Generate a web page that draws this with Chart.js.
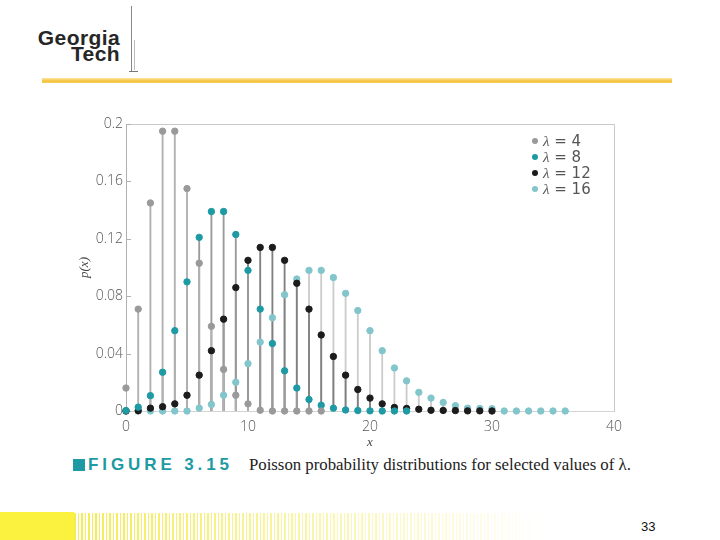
<!DOCTYPE html>
<html>
<head>
<meta charset="utf-8">
<script src="https://cdn.jsdelivr.net/npm/chart.js@4.4.1/dist/chart.umd.min.js"></script>
<style>
  html, body { margin: 0; padding: 0; background: #fff; }
  #slide { position: relative; width: 720px; height: 540px; overflow: hidden; font-family: "Liberation Sans", Arial, sans-serif; }
  .logo { position: absolute; right: 600px; font-weight: bold; color: #262626; font-size: 21px; line-height: 21px; letter-spacing: 0.4px; text-align: right; }
  .tower { position: absolute; background: #777; }
  #goldbar { position: absolute; left: 42px; top: 78px; width: 630px; height: 5px;
             background: linear-gradient(to bottom, #fde7a0, #f5c23c 60%, #f7cf5e); }
  #chartWrap { position: absolute; left: 60px; top: 110px; width: 570px; height: 340px; }
  #legend { position: absolute; left: 532px; top: 133px; font-family: "DejaVu Sans", sans-serif; font-size: 15px; color: #555; }
  #legend div { height: 16px; line-height: 16px; white-space: nowrap; }
  #legend span.dot { display: inline-block; width: 6px; height: 6px; border-radius: 3px; margin-right: 5px; vertical-align: 2px; }
  #caption { position: absolute; left: 73px; top: 455px; white-space: nowrap; }
  #caption .sq { display: inline-block; width: 12px; height: 12px; background: #1d9aa3; margin-right: 3px; vertical-align: -1px; }
  #caption .fig { font-family: "Liberation Sans", Arial, sans-serif; font-weight: bold; font-size: 17px; color: #1d9aa3; letter-spacing: 3.9px; }
  #caption .txt { font-family: "Liberation Serif", serif; font-size: 16.8px; color: #222; margin-left: 16px; }
  #stripes { position: absolute; left: 74px; top: 513px; width: 470px; height: 27px;
             background: repeating-linear-gradient(90deg, #f3ea3c 0 2px, rgba(255,255,255,0) 2px 4px, #f3ea3c 4px 5px, rgba(255,255,255,0) 5px 7px);
             -webkit-mask-image: linear-gradient(to right, rgba(0,0,0,0.9), rgba(0,0,0,0));
             mask-image: linear-gradient(to right, rgba(0,0,0,0.9), rgba(0,0,0,0)); }
  #solid { position: absolute; left: 0; top: 512px; width: 74px; height: 28px; background: #fbf23f; }
  #page { position: absolute; left: 641px; top: 519px; font-size: 13px; color: #111; font-family: "Liberation Sans", Arial, sans-serif; }
</style>
</head>
<body>
<div id="slide">
  <div class="logo" style="top:27px;">Georgia</div>
  <div class="logo" style="top:43px;">Tech</div>
  <div class="tower" style="left:131px; top:6px; width:1px; height:66px; background:#888;"></div>
  <div class="tower" style="left:134px; top:40px; width:1px; height:30px; background:#bbb;"></div>
  <div class="tower" style="left:129px; top:71px; width:9px; height:1px;"></div>
  <div id="goldbar"></div>

  <div id="chartWrap"><canvas id="poissonChart"></canvas></div>

  <div id="legend">
    <div><span class="dot" style="background:#9a9a9a"></span><i style="font-family:'Liberation Serif',serif">λ</i> = 4</div>
    <div><span class="dot" style="background:#1d9aa3"></span><i style="font-family:'Liberation Serif',serif">λ</i> = 8</div>
    <div><span class="dot" style="background:#1c1c1c"></span><i style="font-family:'Liberation Serif',serif">λ</i> = 12</div>
    <div><span class="dot" style="background:#82c6cc"></span><i style="font-family:'Liberation Serif',serif">λ</i> = 16</div>
  </div>

  <div id="caption"><span class="sq"></span><span class="fig">FIGURE 3.15</span><span class="txt">Poisson probability distributions for selected values of λ.</span></div>

  <div id="solid"></div>
  <div id="stripes"></div>
  <div id="page">33</div>
</div>

<script>
// ── Data ─────────────────────────────────────────────────────
const xValues4  = [0, 1, 2, 3, 4, 5, 6, 7, 8, 9, 10, 11, 12, 13, 14, 15, 16];
const pLambda4  = [0.016, 0.071, 0.145, 0.195, 0.195, 0.155, 0.103, 0.059, 0.029, 0.011, 0.005, 0.0005, 0, 0, 0, 0, 0];

const xValues8  = [0, 1, 2, 3, 4, 5, 6, 7, 8, 9, 10, 11, 12, 13, 14, 15, 16, 17, 18, 19, 20, 21, 22, 23];
const pLambda8  = [0.0003, 0.0027, 0.0107, 0.027, 0.056, 0.090, 0.121, 0.139, 0.139, 0.123, 0.098, 0.071, 0.047, 0.028, 0.016, 0.008, 0.004, 0.002, 0.0007, 0.0003, 0.0001, 0, 0, 0];

const xValues12 = [0, 1, 2, 3, 4, 5, 6, 7, 8, 9, 10, 11, 12, 13, 14, 15, 16, 17, 18, 19, 20, 21, 22, 23, 24, 25, 26, 27, 28, 29, 30];
const pLambda12 = [0, 0.0002, 0.002, 0.003, 0.005, 0.011, 0.025, 0.042, 0.064, 0.086, 0.105, 0.114, 0.114, 0.105, 0.089, 0.071, 0.053, 0.038, 0.025, 0.015, 0.009, 0.005, 0.0025, 0.0018, 0.0012, 0.0005, 0.0004, 0.0003, 0.0001, 0.0001, 0];

const xValues16 = [0, 1, 2, 3, 4, 5, 6, 7, 8, 9, 10, 11, 12, 13, 14, 15, 16, 17, 18, 19, 20, 21, 22, 23, 24, 25, 26, 27, 28, 29, 30, 31, 32, 33, 34, 35, 36];
const pLambda16 = [0, 0, 0, 0, 0, 0, 0.002, 0.0046, 0.011, 0.020, 0.033, 0.048, 0.065, 0.081, 0.092, 0.098, 0.098, 0.093, 0.082, 0.070, 0.056, 0.042, 0.030, 0.021, 0.013, 0.009, 0.006, 0.0037, 0.002, 0.0018, 0.0016, 0, 0, 0, 0, 0, 0];

const yTicks = [0, 0.04, 0.08, 0.12, 0.16, 0.2];
const xTicks = [0, 10, 20, 30, 40];

const seriesNames  = ["λ = 4", "λ = 8", "λ = 12", "λ = 16"];
const seriesColors = ["#9a9a9a", "#1d9aa3", "#1c1c1c", "#82c6cc"];
const stemColors   = ["#b0b0b0", "#9a9a9a", "#808080", "#cccccc"];

// ── Build datasets ───────────────────────────────────────────
const allX = [xValues4, xValues8, xValues12, xValues16];
const allP = [pLambda4, pLambda8, pLambda12, pLambda16];

const toPoints = (xs, ps) => xs.map((x, i) => ({ x, y: ps[i] }));

const datasets = [];
allX.forEach((xs, k) => {
  // stems
  datasets.push({
    type: "bar",
    label: seriesNames[k] + " stem",
    data: toPoints(xs, allP[k]),
    backgroundColor: stemColors[k],
    barThickness: 1.2,
    grouped: false,
    order: 10,
  });
});
allX.forEach((xs, k) => {
  // points
  datasets.push({
    type: "scatter",
    label: seriesNames[k],
    data: toPoints(xs, allP[k]),
    backgroundColor: seriesColors[k],
    borderColor: seriesColors[k],
    pointRadius: 3.2,
    pointHoverRadius: 4,
    clip: false,
    order: 1,
  });
});

const tickFont = { family: "'Open Sans', 'DejaVu Sans', sans-serif", size: 14, weight: "300" };

new Chart(document.getElementById("poissonChart"), {
  type: "scatter",
  data: { datasets },
  options: {
    responsive: true,
    maintainAspectRatio: false,
    animation: false,
    layout: { padding: { top: 14, right: 16, left: 0, bottom: 0 } },
    plugins: { legend: { display: false }, tooltip: { enabled: false } },
    scales: {
      x: {
        type: "linear",
        offset: false,
        min: 0, max: 40,
        afterBuildTicks: (s) => { s.ticks = xTicks.map(v => ({ value: v })); },
        afterFit: (s) => { s.height = 39; },
        grid: { display: false },
        border: { display: true, color: "#d4d4d4", width: 1 },
        ticks: { color: "#555", font: tickFont, padding: 0, maxRotation: 0 },
        title: {
          display: true, text: "x", color: "#444",
          font: { family: "'Liberation Serif', serif", size: 13, style: "italic" },
          padding: { top: 0, bottom: 0 },
        },
      },
      y: {
        min: 0, max: 0.2,
        afterBuildTicks: (s) => { s.ticks = yTicks.map(v => ({ value: v })); },
        afterFit: (s) => { s.width = 66; },
        grid: { drawOnChartArea: false, drawTicks: false },
        border: { display: true, color: "#b0b0b0", width: 1 },
        ticks: { color: "#555", font: tickFont, padding: 3, callback: (v) => String(v) },
        title: {
          display: true, text: "p(x)", color: "#444",
          font: { family: "'Liberation Serif', serif", size: 13, style: "italic" },
          padding: { top: 17, bottom: 0 },
        },
      },
    },
  },
  plugins: [{
    id: "frame",
    beforeDatasetsDraw(chart) {
      const { ctx, chartArea: a, scales } = chart;
      ctx.save();
      ctx.strokeStyle = "#c8c8c8";
      ctx.lineWidth = 1;
      ctx.beginPath();
      ctx.moveTo(a.left, a.top + 0.5);
      ctx.lineTo(a.right + 0.5, a.top + 0.5);
      ctx.lineTo(a.right + 0.5, a.bottom);
      ctx.stroke();
      // short inward tick marks on the p(x) axis
      ctx.strokeStyle = "#b0b0b0";
      yTicks.forEach(v => {
        const y = Math.round(scales.y.getPixelForValue(v)) + 0.5;
        ctx.beginPath();
        ctx.moveTo(a.left, y);
        ctx.lineTo(a.left + 5, y);
        ctx.stroke();
      });
      ctx.restore();
    },
  }],
});
</script>
</body>
</html>
